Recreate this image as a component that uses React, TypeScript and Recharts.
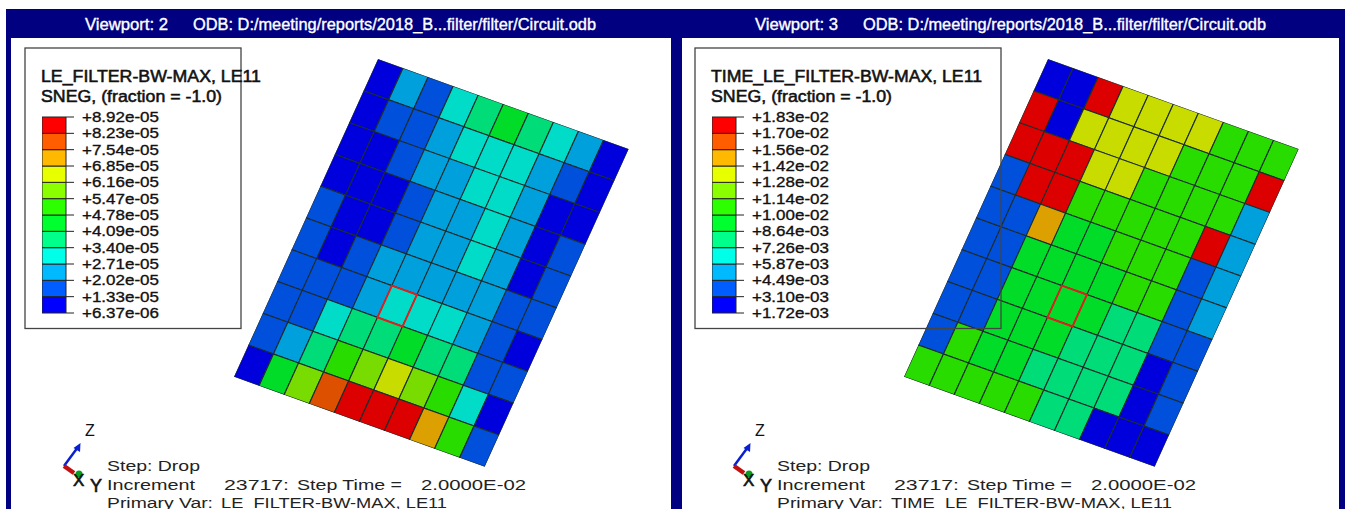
import React from 'react';
import { Bar, BarChart, Scatter, ScatterChart, XAxis, YAxis } from 'recharts';

// contour band of each element, row by row from the top-left corner of the view
const LEFT_ROWS = [
  [0, 2, 1, 3, 4, 5, 4, 3, 2, 0],
  [0, 1, 1, 2, 3, 3, 3, 2, 1, 0],
  [0, 0, 1, 2, 2, 3, 3, 2, 0, 0],
  [0, 0, 0, 1, 2, 2, 3, 2, 0, 1],
  [1, 0, 0, 1, 2, 2, 3, 2, 0, 1],
  [1, 0, 1, 2, 2, 2, 2, 2, 1, 1],
  [1, 1, 1, 2, 3, 3, 3, 2, 1, 0],
  [1, 1, 3, 4, 4, 5, 4, 4, 1, 1],
  [1, 2, 4, 6, 7, 8, 7, 6, 3, 0],
  [0, 5, 7, 10, 11, 11, 11, 9, 6, 1],
];
const RIGHT_ROWS = [
  [0, 0, 11, 8, 8, 8, 8, 6, 6, 6],
  [11, 0, 8, 8, 8, 8, 6, 6, 6, 11],
  [11, 11, 11, 8, 8, 6, 6, 6, 6, 2],
  [1, 11, 11, 6, 6, 6, 6, 6, 11, 2],
  [1, 1, 9, 5, 5, 6, 6, 6, 1, 2],
  [1, 1, 5, 5, 5, 5, 6, 6, 1, 2],
  [1, 1, 5, 5, 5, 5, 4, 4, 1, 1],
  [1, 1, 5, 5, 5, 4, 4, 4, 0, 1],
  [1, 6, 5, 5, 4, 4, 4, 4, 0, 1],
  [6, 6, 6, 6, 6, 4, 4, 0, 0, 0],
];
// element picked in both viewports (column, row)
const PICKED = [{ x: 4.5, y: 6.5 }];

const LEFT_LABELS = ['+8.92e-05', '+8.23e-05', '+7.54e-05', '+6.85e-05', '+6.16e-05', '+5.47e-05', '+4.78e-05', '+4.09e-05', '+3.40e-05', '+2.71e-05', '+2.02e-05', '+1.33e-05', '+6.37e-06'];
const RIGHT_LABELS = ['+1.83e-02', '+1.70e-02', '+1.56e-02', '+1.42e-02', '+1.28e-02', '+1.14e-02', '+1.00e-02', '+8.64e-03', '+7.26e-03', '+5.87e-03', '+4.49e-03', '+3.10e-03', '+1.72e-03'];

// bands from lowest to highest
const MESH_COLORS = ['#0000DC', '#0050DC', '#00A0DC', '#00DCC8', '#00DC78', '#00DC28', '#28DC00', '#78DC00', '#C8DC00', '#DCA000', '#DC5000', '#DC0000'];
const BAR_COLORS = ['#0000FF', '#005DFF', '#00B9FF', '#00FFE8', '#00FF8B', '#00FF2E', '#2EFF00', '#8BFF00', '#E8FF00', '#FFB900', '#FF5D00', '#FF0000'];

const FONT = '"Liberation Sans", Arial, sans-serif';
const CELL_W = 25;
const CELL_H = 32;

const toCells = (rows: number[][]) =>
  rows.flatMap((row, r) => row.map((level, c) => ({ x: c + 0.5, y: r + 0.5, level })));

const MeshCell = (props: any) => (
  <rect
    x={props.cx - CELL_W / 2}
    y={props.cy - CELL_H / 2}
    width={CELL_W}
    height={CELL_H}
    fill={MESH_COLORS[props.payload.level]}
    stroke="#1c2c2c"
    strokeWidth={1}
  />
);

const PickedCell = (props: any) => (
  <rect x={props.cx - CELL_W / 2} y={props.cy - CELL_H / 2} width={CELL_W} height={CELL_H} fill="none" stroke="#E0201C" strokeWidth={1.8} />
);

// the model is viewed at an angle, so the flat element grid gets the view matrix
const Mesh: React.FC<{ rows: number[][]; left: number }> = ({ rows, left }) => (
  <div
    style={{
      position: 'absolute',
      left,
      top: 59.3,
      transformOrigin: '0 0',
      transform: 'matrix(1.0028, 0.36, -0.45, 0.993, 0, 0)',
    }}
  >
    <ScatterChart width={CELL_W * 10} height={CELL_H * 10} margin={{ top: 0, right: 0, bottom: 0, left: 0 }} style={{ overflow: 'visible' }}>
      <XAxis type="number" dataKey="x" domain={[0, 10]} hide />
      <YAxis type="number" dataKey="y" domain={[0, 10]} reversed hide />
      <Scatter data={toCells(rows)} shape={MeshCell} isAnimationActive={false} />
      <Scatter data={PICKED} shape={PickedCell} isAnimationActive={false} />
    </ScatterChart>
  </div>
);

const ColorBar: React.FC<{ labels: string[]; left: number }> = ({ labels, left }) => {
  const row: Record<string, number | string> = { name: 'band' };
  BAR_COLORS.forEach((_, i) => { row[`b${i}`] = 1; });
  const Tick = (p: any) => (
    <text x={p.x} y={p.y + 5} fontFamily={FONT} fontSize={15.5} fill="#111" stroke="#111" strokeWidth={0.35} textLength={77} lengthAdjust="spacingAndGlyphs">
      {labels[12 - p.payload.value]}
    </text>
  );
  return (
    <div style={{ position: 'absolute', left, top: 108.7 }}>
      <BarChart width={144} height={212} data={[row]} barCategoryGap={0} margin={{ top: 8, right: 0, bottom: 8, left: 0 }}>
        <XAxis dataKey="name" hide />
        <YAxis
          orientation="right"
          type="number"
          domain={[0, 12]}
          ticks={[0, 1, 2, 3, 4, 5, 6, 7, 8, 9, 10, 11, 12]}
          interval={0}
          width={120}
          tickSize={8}
          tickMargin={8}
          axisLine={false}
          tickLine={{ stroke: '#222' }}
          tick={Tick}
        />
        {BAR_COLORS.map((color, i) => (
          <Bar key={color} dataKey={`b${i}`} stackId="legend" fill={color} stroke="#222" strokeWidth={1} isAnimationActive={false} />
        ))}
      </BarChart>
    </div>
  );
};

const Label: React.FC<{ x: number; y: number; w?: number; size?: number; fill?: string; heavy?: number; children: string }> = ({ x, y, w, size = 15, fill = '#222', heavy = 0, children }) => (
  <text x={x} y={y} fontFamily={FONT} fontSize={size} fill={fill} stroke={heavy ? fill : 'none'} strokeWidth={heavy} textLength={w} lengthAdjust={w ? 'spacingAndGlyphs' : undefined}>
    {children}
  </text>
);

const Notes: React.FC<{ dx: number; port: string; title: string; boxW: number; titleW: number; varW: number; variable: string }> = ({ dx, port, title, boxW, titleW, varW, variable }) => (
  <g>
    <Label x={85 + dx} y={30} w={83} size={16} fill="#fff" heavy={0.35}>{`Viewport: ${port}`}</Label>
    <Label x={193 + dx} y={30} w={403} size={16} fill="#fff" heavy={0.35}>ODB: D:/meeting/reports/2018_B...filter/filter/Circuit.odb</Label>

    <rect x={25 + dx} y={48} width={boxW} height={280.5} fill="none" stroke="#444" strokeWidth={1.3} />
    <Label x={41 + dx} y={82} w={titleW} size={17} fill="#111" heavy={0.55}>{title}</Label>
    <Label x={41 + dx} y={101.5} w={181} size={17} fill="#111" heavy={0.55}>SNEG, (fraction = -1.0)</Label>

    <line x1={64 + dx} y1={466} x2={78 + dx} y2={447} stroke="#0a1fd0" strokeWidth={2.5} />
    <polygon points={`${80.5 + dx},443 ${80 + dx},452 ${73.5 + dx},448`} fill="#0a1fd0" />
    <line x1={64 + dx} y1={466} x2={74 + dx} y2={473} stroke="#c01010" strokeWidth={4.5} />
    <circle cx={79 + dx} cy={474} r={3.5} fill="#0a9a20" />
    <Label x={85 + dx} y={436} size={16} fill="#111">Z</Label>
    <Label x={73 + dx} y={486} size={17} fill="#111" heavy={0.6}>X</Label>
    <Label x={90 + dx} y={492} size={18} fill="#111" heavy={0.6}>Y</Label>

    <Label x={107 + dx} y={471} w={93} size={15.5}>Step: Drop</Label>
    <Label x={107 + dx} y={490} w={88} size={15.5}>Increment</Label>
    <Label x={224 + dx} y={490} w={65} size={15.5}>23717:</Label>
    <Label x={297 + dx} y={490} w={105} size={15.5}>Step Time =</Label>
    <Label x={421 + dx} y={490} w={105} size={15.5}>2.0000E-02</Label>
    <Label x={107 + dx} y={508} w={106} size={15.5}>Primary Var:</Label>
    <Label x={221 + dx} y={508} w={varW} size={15.5}>{variable}</Label>
  </g>
);

const Frame: React.FC<{ left: number; width: number }> = ({ left, width }) => (
  <div style={{ position: 'absolute', left, top: 9, width, height: 500, background: '#000080' }}>
    <div style={{ position: 'absolute', left: 5, top: 29, width: width - 11, height: 471, background: '#fff' }} />
  </div>
);

export default function App() {
  return (
    <div style={{ position: 'absolute', left: 0, top: 0, width: 1347, height: 509, overflow: 'hidden', background: '#fff' }}>
      <Frame left={6} width={671} />
      <Frame left={677} width={668} />
      <Mesh rows={LEFT_ROWS} left={377.7} />
      <Mesh rows={RIGHT_ROWS} left={1047.7} />
      <ColorBar labels={LEFT_LABELS} left={41.7} />
      <ColorBar labels={RIGHT_LABELS} left={711.7} />
      <svg width={1347} height={509} style={{ position: 'absolute', left: 0, top: 0 }}>
        <Notes dx={0} port="2" title="LE_FILTER-BW-MAX, LE11" boxW={216} titleW={220} varW={226} variable="LE_FILTER-BW-MAX, LE11" />
        <Notes dx={670} port="3" title="TIME_LE_FILTER-BW-MAX, LE11" boxW={306} titleW={271} varW={281} variable="TIME_LE_FILTER-BW-MAX, LE11" />
      </svg>
    </div>
  );
}
